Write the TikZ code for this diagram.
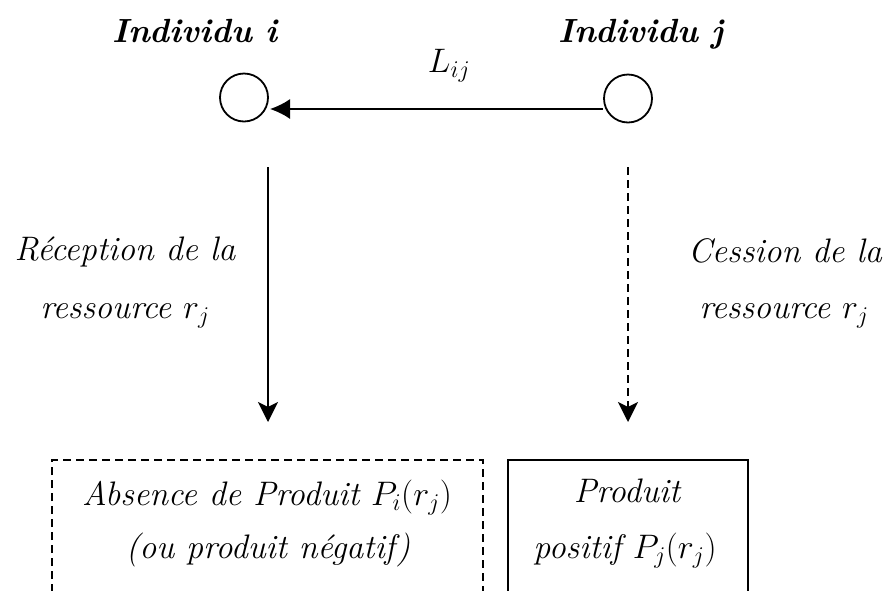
\RequirePackage{fix-cm}
\documentclass[tikz,border=0pt]{standalone}
\usetikzlibrary{arrows.meta}
\DeclareMathSizes{34}{34}{24}{17}
\begin{document}
\begin{tikzpicture}[x=1pt,y=-1pt,
  txt/.style={font=\fontsize{34}{40}\selectfont\itshape, inner sep=0pt, anchor=base},
  ttl/.style={font=\fontsize{33.5}{40}\selectfont\bfseries\itshape, inner sep=0pt, anchor=base},
  indiv/.style={draw, circle, line width=1.8pt, minimum size=48pt, inner sep=0pt},
  conn/.style={line width=1.8pt},
  dashline/.style={dash pattern=on 8pt off 5pt}
]
\useasboundingbox (0,0) rectangle (884,590);
% individuals
\node[indiv] (ci) at (244,97.5) {};
\node[indiv] (cj) at (628,98.5) {};
\node[ttl] (ti) at (195,42) {Individu i};
\node[ttl] (tj) at (641,42) {Individu j};
\node[inner sep=0pt, anchor=base, font=\fontsize{34}{40}\selectfont] (lij) at (449,72) {$L_{ij}$};
% horizontal link
\coordinate (hj) at (603,109);
\coordinate (hi) at (270,109);
\draw[conn,-{Latex[length=20pt,width=20pt]}] (hj) -- (hi);
% vertical arrows
\coordinate (ai) at (268,167);
\coordinate (bi) at (268,422);
\coordinate (aj) at (628,167);
\coordinate (bj) at (628,422);
\draw[conn,-{Stealth[length=20pt,width=20pt,inset=5pt]}] (ai) -- (bi);
\draw[conn,dashline,-{Stealth[length=20pt,width=20pt,inset=5pt]}] (aj) -- (bj);
% side labels
\node[txt] (r1) at (125,260) {R\'eception de la};
\node[txt] (r2) at (125,318) {ressource $r_j$};
\node[txt] (c1) at (785,262) {Cession de la};
\node[txt] (c2) at (784,318) {ressource $r_j$};
% boxes (open at bottom)
\draw[conn,dashline] (52,592) -- (52,460) -- (483,460) -- (483,592);
\draw[conn] (508,592) -- (508,460) -- (748,460) -- (748,592);
\node[txt] (b1) at (267,505) {Absence de Produit $P_i(r_j)$};
\node[txt] (b2) at (268,558) {(ou produit n\'egatif)};
\node[txt] (p1) at (627,502) {Produit};
\node[txt] (p2) at (625,558) {positif $P_j(r_j)$};
\end{tikzpicture}
\end{document}
